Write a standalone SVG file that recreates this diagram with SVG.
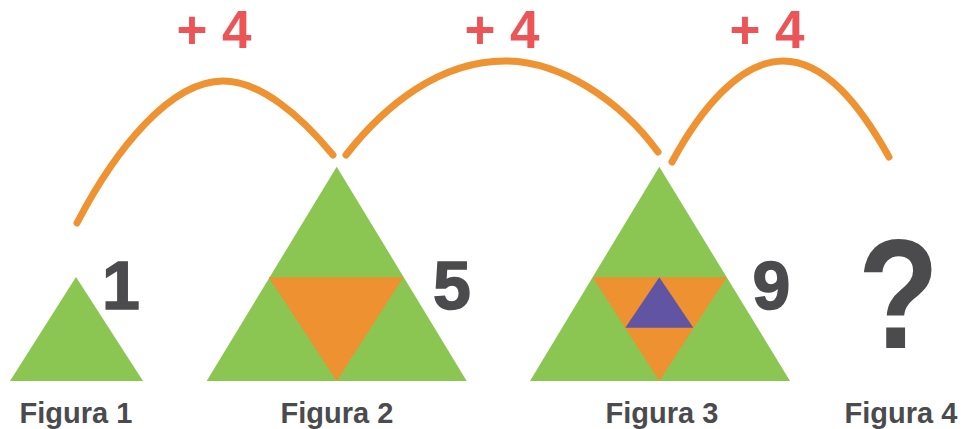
<svg xmlns="http://www.w3.org/2000/svg" width="963" height="429" viewBox="0 0 963 429">
<style>
.g{fill:#8BC652}
.o{fill:#EE9130}
.p{fill:#6154A2}
.num{font-family:"Liberation Sans",Arial,sans-serif;font-weight:700;fill:#4B4B4D}
.lbl{font-family:"Liberation Sans",Arial,sans-serif;font-weight:700;font-size:29px;fill:#4B4B4D;text-anchor:middle}
.plus{font-family:"Liberation Sans",Arial,sans-serif;font-weight:700;font-size:53px;fill:#EB5557;text-anchor:middle}
.arc{fill:none;stroke:#EF9231;stroke-width:7;stroke-linecap:round}
</style>
<rect width="963" height="429" fill="#FFFFFF"/>
<g id="connectors">
<path class="arc" d="M77,223 C115,150 170,81 223,81 C260,81 300,115 333,155"/>
<path class="arc" d="M346,155 C385,105 440,61 505,61 C560,61 620,100 658,152"/>
<path class="arc" d="M672,162 C700,110 740,61 783,61 C825,61 860,105 889,157"/>
<text class="plus" x="214" y="48">+ 4</text>
<text class="plus" x="502" y="48">+ 4</text>
<text class="plus" x="767" y="48">+ 4</text>
</g>
<g id="figura1">
<polygon class="g" points="76,277 143,381 10,381"/>
<text class="num" x="121" y="309" font-size="68" text-anchor="middle" stroke="#4B4B4D" stroke-width="1.5">1</text>
<text class="lbl" x="76" y="423">Figura 1</text>
</g>
<g id="figura2">
<polygon class="g" points="336.7,166.7 466.7,381 206.7,381"/>
<polygon class="o" points="268.7,277.3 403.3,277.3 336.7,381"/>
<text class="num" x="452" y="309" font-size="68" text-anchor="middle" stroke="#4B4B4D" stroke-width="1.5">5</text>
<text class="lbl" x="337" y="423">Figura 2</text>
</g>
<g id="figura3">
<polygon class="g" points="659.3,166.7 790,381 530,381"/>
<polygon class="o" points="592.7,277.3 726.7,277.3 659.3,381"/>
<polygon class="p" points="659.3,277.3 693.3,327.7 625.3,327.7"/>
<text class="num" x="771.5" y="309" font-size="68" text-anchor="middle" stroke="#4B4B4D" stroke-width="1.5">9</text>
<text class="lbl" x="662" y="423">Figura 3</text>
</g>
<g id="figura4">
<text class="num" x="0" y="348" font-size="155" text-anchor="middle" transform="translate(898.5,0) scale(0.86,1)">?</text>
<text class="lbl" x="901" y="423">Figura 4</text>
</g>
</svg>
